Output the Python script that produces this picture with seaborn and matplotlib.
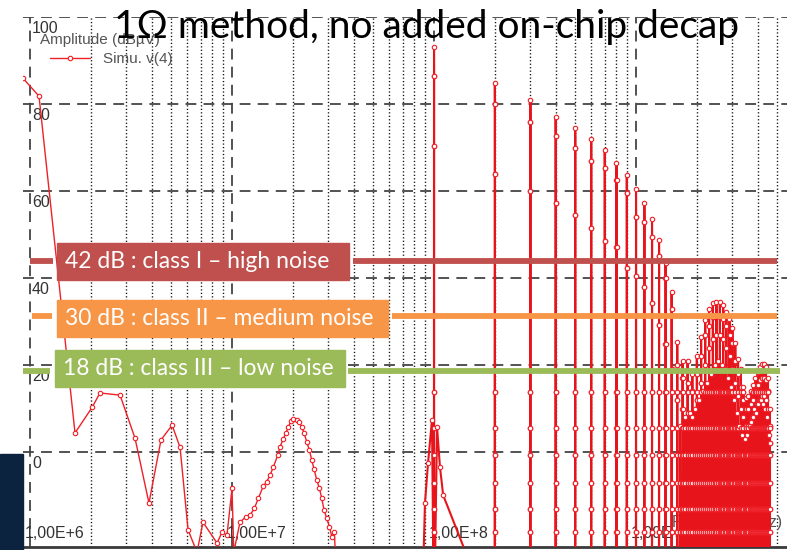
import matplotlib
matplotlib.use("Agg")
import matplotlib.pyplot as plt
import matplotlib.transforms as mtransforms
from matplotlib.patches import Rectangle
from matplotlib.lines import Line2D
import pandas as pd
import seaborn as sns

# ---- data (Hz, dBuV) ----
low_freq = [0.92e6, 1.108e6, 1.67e6, 2.03e6, 2.22e6, 2.79e6, 3.31e6, 3.88e6,
            4.45e6, 5.05e6, 5.53e6, 6.06e6, 6.71e6, 7.18e6, 8.43e6, 8.92e6,
            9.44e6, 1.0e7, 1.02e7, 1.095e7, 1.168e7, 1.228e7, 1.29e7, 1.35e7,
            1.429e7, 1.485e7, 1.542e7, 1.602e7, 1.684e7, 1.728e7, 1.795e7,
            1.845e7, 1.9e7, 1.96e7, 2.012e7, 2.091e7, 2.147e7, 2.213e7,
            2.272e7, 2.343e7, 2.414e7, 2.481e7, 2.547e7, 2.627e7, 2.706e7,
            2.781e7, 2.854e7, 2.944e7, 3.033e7, 3.117e7, 3.209e7, 3.3e7]
low_db = [86, 81.8, 4.4, 10.3, 13.6, 13.1, 3.2, -11.7,
          2.8, 6.2, 1.1, -17.9, -23, -16.1, -20.9, -18.4,
          -19.1, -8.3, -23, -16.1, -14.9, -14.5, -12.9, -10.6,
          -7.8, -6.8, -5.3, -3.4, -0.7, 1.2, 3.1,
          4.3, 5.8, 7.2, 7.7, 7.5, 7.0, 5.8,
          4.4, 2.4, 0.5, -1.8, -3.9, -6.4, -8.3,
          -10.6, -13.3, -15.2, -17.1, -19.4, -18.3, -30]

# skirt of the first harmonic (100 MHz)
h1_left_f = [0.88e8, 0.902e8, 0.934e8, 0.977e8]
h1_left_db = [-30, -11.7, -2.5, 7.4]
h1_right_f = [1.035e8, 1.07e8, 1.11e8]
h1_right_db = [5.7, -3.4, -9.9]

# harmonics of 100 MHz: peak and two side markers
harm_n = list(range(1, 47))
harm_peak = [93, 84.8, 81, 77, 74.5, 72, 69.4, 66.5, 63.8, 60.5, 57.2, 53.6,
             48.7, 43.4, 36.8, 25.3, 21, 21, 18, 22, 26.4, 30.3, 32.9, 34.3,
             34.5, 34.4, 33.8, 32.2, 30.5, 28.5, 25, 21.5, 19, 15, 12.4, 13,
             14, 15.5, 17, 18.5, 19.5, 20.2, 20.2, 19.5, 17, 10]
harm_mid1 = [86.4, 80, 75.9, 72.6, 69.9, 67, 65.3, 62.5, 59.5, 54, 53, 49.5,
             45, 40, 32.9, 20, 17, 16, 14, 18, 22, 27, 29, 31,
             31.5, 31, 30.5, 29, 27, 25, 21, 18, 15, 12, 10, 10,
             11, 12, 14, 15.5, 16.5, 17, 17, 16.5, 14, 6]
harm_mid2 = [70.3, 64, 60, 57.2, 54.5, 51.5, 48.5, 47.1, 42.3, 40.5, 38, 34.3,
             29.2, 24.8, 19, 12, 10, 9, 8, 12, 16, 20, 24, 26,
             27, 27, 26, 24, 22, 19, 16, 13, 10, 8, 6, 6,
             7, 8, 9, 11, 12, 13, 13, 12, 10, 2]
foot_db = [13.8, 5.5, -0.7, -7.1, -13, -18.4]

# in-between lines of the dense upper band
half_n = [16.5, 17.5, 18.5, 19.5, 20.5, 21.5, 22.5, 23.5, 24.5, 25.5, 26.5,
          27.5, 28.5, 29.5, 30.5, 31.5, 32.5, 33.5, 34.5, 35.5, 36.5, 37.5,
          38.5, 39.5, 40.5, 41.5, 42.5, 43.5, 44.5, 45.5]
half_peak = [6, 8, 9, 10, 12, 14, 16, 18, 20, 21, 20, 19, 17, 15, 12, 9, 6, 4,
             3, 4, 6, 8, 10, 11, 12, 12, 11, 10, 8, 4]

floor_db = -40
y_ticks = [0, 20, 40, 60, 80, 100]
x_decades = [1e6, 1e7, 1e8, 1e9]
x_labels = ["1,00E+6", "1,00E+7", "1,00E+8", "1,00E+9"]

classes = ["42 dB : class I \u2013 high noise",
           "30 dB : class II \u2013 medium noise",
           "18 dB : class III \u2013 low noise"]
class_colors = ["#C0504D", "#F79646", "#9BBB59"]

# ---- build the trace ----
def stem(f, levels, peak):
    up = sorted(lv for lv in levels if lv < peak - 1)
    xs = [f * 0.999] * (len(up) + 1) + [f] + [f * 1.001] * (len(up) + 1)
    ys = [floor_db] + up + [peak] + up[::-1] + [floor_db]
    return xs, ys

stems = []
for n, pk, m1, m2 in zip(harm_n, harm_peak, harm_mid1, harm_mid2):
    stems.append((n * 1e8, foot_db + [m2, m1], pk))
for n, pk in zip(half_n, half_peak):
    stems.append((n * 1e8, foot_db, pk))
stems.sort(key=lambda s: s[0])

xs = list(h1_left_f)
ys = list(h1_left_db)
for i, (f, lv, pk) in enumerate(stems):
    sx, sy = stem(f, lv, pk)
    xs += sx
    ys += sy
    if i == 0:
        xs += h1_right_f
        ys += h1_right_db
df_low = pd.DataFrame({"freq": low_freq, "db": low_db})
df_harm = pd.DataFrame({"freq": xs, "db": ys})

# ---- figure ----
W, H = 787, 550
sns.set_theme(style="white")
plt.rcParams["font.family"] = ["Liberation Sans", "DejaVu Sans"]

fig = plt.figure(figsize=(W / 100, H / 100), dpi=100)
fig.patch.set_facecolor("white")
ax = fig.add_axes([23 / W, 3 / H, (W - 23) / W, 530 / H])

red = "#EE2028"
sns.lineplot(data=df_low, x="freq", y="db", sort=False, estimator=None, ax=ax,
             color=red, lw=1.0, marker="o", ms=3.2, mfc="white", mec=red,
             mew=0.8, label="Simu. v(4)", zorder=3)
sns.lineplot(data=df_harm, x="freq", y="db", sort=False, estimator=None, ax=ax,
             color="#E8141C", lw=1.5, marker="o", ms=3.2, mfc="white",
             mec=red, mew=0.8, zorder=3)

ax.set_xscale("log")
ax.set_xticks(x_decades)
ax.set_xticks([m * d for d in x_decades for m in range(2, 10)], minor=True)
ax.set_yticks(y_ticks)
ax.set_xlim(0.923e6, 5.59e9)
ax.set_ylim(-21.8, 100)
ax.set_xlabel("")
ax.set_ylabel("")
ax.set_xticklabels([])
ax.set_yticklabels([])
ax.tick_params(which="both", length=0)
ax.grid(which="major", axis="both", color="#444444", lw=1.3,
        ls=(0, (6.0, 4.0)), zorder=0)
ax.grid(which="minor", axis="x", color="#111111", lw=1.0,
        ls=(0, (0.9, 1.6)), zorder=0)
for s in ["left", "right", "top"]:
    ax.spines[s].set_visible(False)
ax.spines["bottom"].set_color("#3a3a3a")
ax.spines["bottom"].set_linewidth(2)

# tick labels drawn inside the plot
ytr = mtransforms.blended_transform_factory(ax.transAxes, ax.transData)
ytr = mtransforms.offset_copy(ytr, fig=fig, y=-4, units="dots")
for v in y_ticks:
    ax.text(9 / 764, v, str(v), transform=ytr, va="top", ha="left",
            fontsize=11.5, color="#333333", zorder=1)
xtr = mtransforms.blended_transform_factory(ax.transData, ax.transAxes)
xtr = mtransforms.offset_copy(xtr, fig=fig, x=-5, units="dots")
for f, lab in zip(x_decades, x_labels):
    ax.text(f, 13 / 530, lab, transform=xtr, va="center", ha="left",
            fontsize=11.5, color="#333333", zorder=1)
ax.text(672 / W, 1 - 522 / H, "Frequency (Hz)", transform=fig.transFigure,
        fontsize=11.5, color="#555555", va="center", ha="left", zorder=1)

ax.text(40 / W, 1 - 40 / H, "Amplitude (dB\u00b5V)", transform=fig.transFigure,
        fontsize=11, color="#555555", va="center", ha="left", zorder=4)
handles, labels = ax.get_legend_handles_labels()
leg = ax.legend(handles[:1], labels[:1], loc="center left",
                bbox_to_anchor=(50 / W, 1 - 59 / H),
                bbox_transform=fig.transFigure, frameon=False, borderpad=0,
                borderaxespad=0, handlelength=2.6, handletextpad=0.85,
                fontsize=11)
for t in leg.get_texts():
    t.set_color("#555555")

# slide decorations
fig.add_artist(Rectangle((0, 0), 23 / W, 96 / H, transform=fig.transFigure,
                         color="#0C2340", zorder=5))
fig.text(427 / W, 1 - 38 / H, "1\u03a9 method, no added on-chip decap",
         ha="center", va="baseline", fontsize=28, color="black",
         family=["Lato", "DejaVu Sans"], zorder=12)

boxes = [(57, 243, 349, 280), (57, 300, 388, 337), (55, 350, 345, 387)]
line_y = [260.5, 316, 371]
stubs = [((30, 53), (353, 777)), ((32, 52), (392, 777)), ((23, 50), (348, 780))]
for lab, col, (x0, y0, x1, y1), ly, segs in zip(classes, class_colors, boxes,
                                                line_y, stubs):
    fig.add_artist(Rectangle((x0 / W, 1 - y1 / H), (x1 - x0) / W, (y1 - y0) / H,
                             transform=fig.transFigure, color=col, zorder=10))
    fig.text((x0 + 8) / W, 1 - (y0 + y1) / 2 / H, lab, ha="left", va="center",
             color="white", fontsize=16.5, family=["Lato", "DejaVu Sans"],
             zorder=11)
    for a, b in segs:
        fig.add_artist(Line2D([a / W, b / W], [1 - ly / H, 1 - ly / H],
                              transform=fig.transFigure, color=col, lw=4.2,
                              solid_capstyle="butt", zorder=10))

fig.savefig("out.png", dpi=100)
